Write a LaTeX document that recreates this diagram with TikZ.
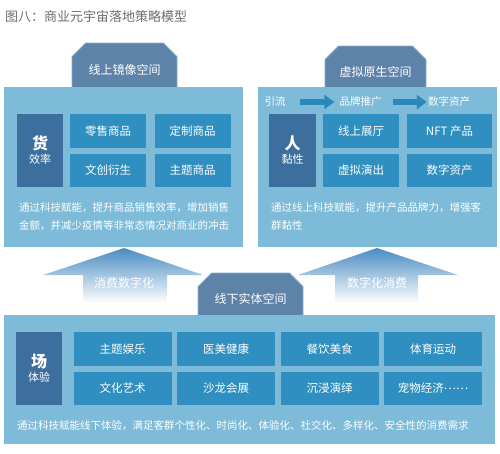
\documentclass[tikz,border=0pt]{standalone}
\usepackage{fontspec}
\setmainfont{Noto Sans CJK SC}
\usetikzlibrary{arrows.meta,shapes.misc}
\definecolor{lightbox}{HTML}{7DBBD8}
\definecolor{cellblue}{HTML}{2E8FC0}
\definecolor{darkbox}{HTML}{3D6F9E}
\definecolor{tabblue}{HTML}{5E83A8}
\definecolor{tabedge}{HTML}{8AAACB}
\definecolor{arrowtop}{HTML}{4A8CC2}
\definecolor{arrowmid}{HTML}{92C2E2}
\definecolor{flowblue}{HTML}{2A88BA}
\definecolor{titlegray}{HTML}{6E6E6E}
\tikzset{
  panel/.style={fill=lightbox, draw=none, inner sep=0pt},
  tab/.style={chamfered rectangle, chamfered rectangle corners={north west,north east},
    chamfered rectangle xsep=9pt, chamfered rectangle ysep=8pt,
    fill=tabblue, draw=tabedge, line width=0.8pt, inner sep=0pt, text=white,
    font=\fontsize{12}{12}\selectfont},
  cell/.style={fill=cellblue, inner sep=0pt, text=white, font=\fontsize{11.5}{11.5}\selectfont},
  keybox/.style={fill=darkbox, inner sep=0pt, text=white, align=center},
  para/.style={text=white, anchor=base west, align=left, inner sep=0pt,
    font=\fontsize{10.5}{18}\selectfont},
  flowtext/.style={text=white, inner sep=0pt, font=\fontsize{10.5}{10.5}\selectfont},
  flowarrow/.style={draw=flowblue, line width=6pt, -{Triangle[length=10pt,width=14pt]}},
  bigarrow/.style={top color=arrowtop, middle color=arrowmid, bottom color=white, draw=none},
  arrowtext/.style={text=white, inner sep=0pt, font=\fontsize{12}{12}\selectfont}
}
\begin{document}
\begin{tikzpicture}[x=1pt,y=-1pt]
\useasboundingbox (0,0) rectangle (500,453);
\fill[white] (0,0) rectangle (500,453);

% title
\node[text=titlegray, anchor=base west, inner sep=0pt, font=\fontsize{13}{13}\selectfont] (title) at (5,21) {图八：商业元宇宙落地策略模型};

% tabs of upper panels
\node[tab, minimum width=105pt, minimum height=54pt] (onlinetab) at (124.5,70) {线上镜像空间};
\node[tab, minimum width=101pt, minimum height=52pt] (virtualtab) at (375.5,72) {虚拟原生空间};

% upper panels
\node[panel, minimum width=239pt, minimum height=160pt] (onlinebox) at (123.5,167) {};
\node[panel, minimum width=239pt, minimum height=160pt] (virtualbox) at (377.5,167) {};

% left panel content
\node[keybox, minimum width=46pt, minimum height=73pt] (goods) at (40,150.5)
  {{\fontsize{16}{16}\selectfont\bfseries 货}\\[2pt]{\fontsize{11}{11}\selectfont 效率}};
\node[cell, minimum width=76pt, minimum height=33.5pt] (retail) at (108,130.8) {零售商品};
\node[cell, minimum width=76pt, minimum height=33.5pt] (custom) at (192.5,130.8) {定制商品};
\node[cell, minimum width=76pt, minimum height=33.5pt] (cultural) at (108,170.3) {文创衍生};
\node[cell, minimum width=76pt, minimum height=33.5pt] (theme) at (192.5,170.3) {主题商品};
\node[para] (onlinetext) at (19,229) {通过科技赋能，提升商品销售效率，增加销售\\金额，并减少疫情等非常态情况对商业的冲击};

% right panel content
\node[flowtext] (traffic) at (275,102) {引流};
\node[flowtext] (brand) at (360.5,102) {品牌推广};
\node[flowtext] (asset) at (449,102) {数字资产};
\draw[flowarrow, shorten <=14pt, shorten >=5pt] (traffic.east) -- (brand.west);
\draw[flowarrow, shorten <=11pt, shorten >=1pt] (brand.east) -- (asset.west);

\node[keybox, minimum width=47pt, minimum height=73pt] (people) at (292.5,150.5)
  {{\fontsize{16}{16}\selectfont\bfseries 人}\\[2pt]{\fontsize{11}{11}\selectfont 黏性}};
\node[cell, minimum width=76pt, minimum height=33.5pt] (showroom) at (361,130.8) {线上展厅};
\node[cell, minimum width=85pt, minimum height=33.5pt] (nft) at (449.5,130.8) {NFT 产品};
\node[cell, minimum width=76pt, minimum height=33.5pt] (show) at (361,170.3) {虚拟演出};
\node[cell, minimum width=85pt, minimum height=33.5pt] (digital) at (449.5,170.3) {数字资产};
\node[para] (virtualtext) at (271,229) {通过线上科技赋能，提升产品品牌力，增强客\\群黏性};

% big gradient arrows
\path[bigarrow] (124,248) -- (203,275) -- (167,275) -- (167,303) -- (83,303) -- (83,275) -- (43,275) -- cycle;
\path[bigarrow] (377,248) -- (458,275) -- (418,275) -- (418,303) -- (335,303) -- (335,275) -- (298,275) -- cycle;
\node[arrowtext] (consume) at (124,283) {消费数字化};
\node[arrowtext] (digitalize) at (377,283) {数字化消费};

% bottom tab and panel
\node[tab, minimum width=105pt, minimum height=52pt] (offlinetab) at (250.5,299) {线下实体空间};
\node[panel, minimum width=491pt, minimum height=129pt] (offlinebox) at (249.5,379.5) {};

\node[keybox, minimum width=46pt, minimum height=73pt] (venue) at (39,368.5)
  {{\fontsize{16}{16}\selectfont\bfseries 场}\\[2pt]{\fontsize{11}{11}\selectfont 体验}};
\node[cell, minimum width=98pt, minimum height=33.5pt] (ent) at (122.5,349) {主题娱乐};
\node[cell, minimum width=98pt, minimum height=33.5pt] (beauty) at (226,349) {医美健康};
\node[cell, minimum width=98pt, minimum height=33.5pt] (food) at (329.5,349) {餐饮美食};
\node[cell, minimum width=98pt, minimum height=33.5pt] (sport) at (433,349) {体育运动};
\node[cell, minimum width=98pt, minimum height=33.5pt] (art) at (122.5,388.5) {文化艺术};
\node[cell, minimum width=98pt, minimum height=33.5pt] (salon) at (226,388.5) {沙龙会展};
\node[cell, minimum width=98pt, minimum height=33.5pt] (immersive) at (329.5,388.5) {沉浸演绎};
\node[cell, minimum width=98pt, minimum height=33.5pt] (pet) at (433,388.5) {宠物经济\raisebox{0.3em}{……}};
\node[para] (offlinetext) at (17,429) {通过科技赋能线下体验，满足客群个性化、时尚化、体验化、社交化、多样化、安全性的消费需求};
\end{tikzpicture}
\end{document}
